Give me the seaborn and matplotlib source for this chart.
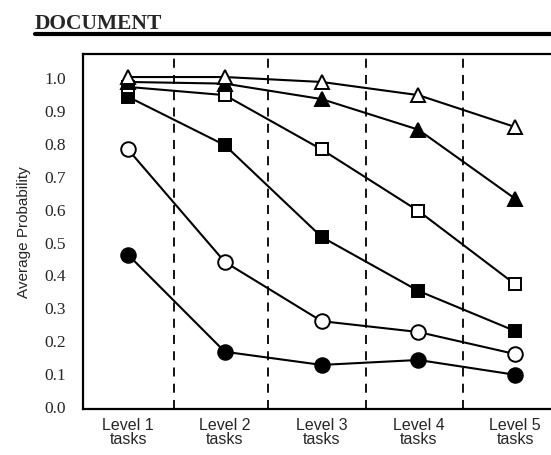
import matplotlib
matplotlib.use("Agg")
import matplotlib.pyplot as plt
import seaborn as sns
import pandas as pd

categories = ["Level 1\ntasks", "Level 2\ntasks", "Level 3\ntasks", "Level 4\ntasks", "Level 5\ntasks"]
filled_circle = [0.46, 0.165, 0.125, 0.14, 0.095]
open_circle = [0.78, 0.438, 0.258, 0.225, 0.158]
filled_square = [0.94, 0.793, 0.514, 0.35, 0.228]
open_square = [0.97, 0.945, 0.78, 0.593, 0.37]
filled_triangle = [0.985, 0.98, 0.933, 0.84, 0.63]
open_triangle = [1.0, 1.0, 0.985, 0.945, 0.848]
y_ticks = [0.0, 0.1, 0.2, 0.3, 0.4, 0.5, 0.6, 0.7, 0.8, 0.9, 1.0]

sns.set_theme(style="white")
plt.rcParams['font.family'] = ['Liberation Sans', 'DejaVu Sans']

fig = plt.figure(figsize=(5.51, 4.56), dpi=100)
ax = fig.add_axes([83/551, 46/456, 1 - 83/551, (410-55)/456])

series = [
    (filled_circle, "o", "black", 10.5),
    (open_circle, "o", "white", 10.5),
    (filled_square, "s", "black", 8.5),
    (open_square, "s", "white", 9),
    (filled_triangle, "^", "black", 9.5),
    (open_triangle, "^", "white", 9.5),
]
xs = list(range(len(categories)))
for vals, mk, fc, ms in series:
    df = pd.DataFrame({"x": xs, "y": vals})
    sns.lineplot(data=df, x="x", y="y", ax=ax, color="black", linewidth=1.5,
                 marker=mk, markersize=ms, markerfacecolor=fc,
                 markeredgecolor="black", markeredgewidth=1.4, zorder=3)

for xv in [0.47, 1.45, 2.46, 3.46]:
    ax.axvline(xv, color="black", linestyle=(0, (5, 4)), linewidth=1.3, zorder=1)

ax.set_xlim(-0.465, 4.37)
ax.set_ylim(-0.009, 1.07)
ax.set_xticks(xs)
ax.set_xticklabels(categories, fontsize=11.5, linespacing=0.9)
ax.set_yticks(y_ticks)
ax.set_yticklabels([f"{v:.1f}" for v in y_ticks], fontsize=12.5, family=['Liberation Serif'])
ax.tick_params(axis='y', length=0, pad=12)
ax.tick_params(axis='x', length=0, pad=6)
ax.set_xlabel("")
ax.set_ylabel("Average Probability", fontsize=11, labelpad=10)
for s in ["left", "bottom", "top"]:
    ax.spines[s].set_visible(True)
    ax.spines[s].set_color("black")
    ax.spines[s].set_linewidth(1.6)
ax.spines["right"].set_visible(False)

fig.text(35/551, 1 - 24/456, "DOCUMENT", fontsize=15.5, fontweight="bold",
         family=['Liberation Serif'], va="center", ha="left")
fig.add_artist(plt.Line2D([35/551, 1.0], [1 - 35/456, 1 - 35/456], color="black",
                          linewidth=3, transform=fig.transFigure))

fig.savefig("out.png", dpi=100)
